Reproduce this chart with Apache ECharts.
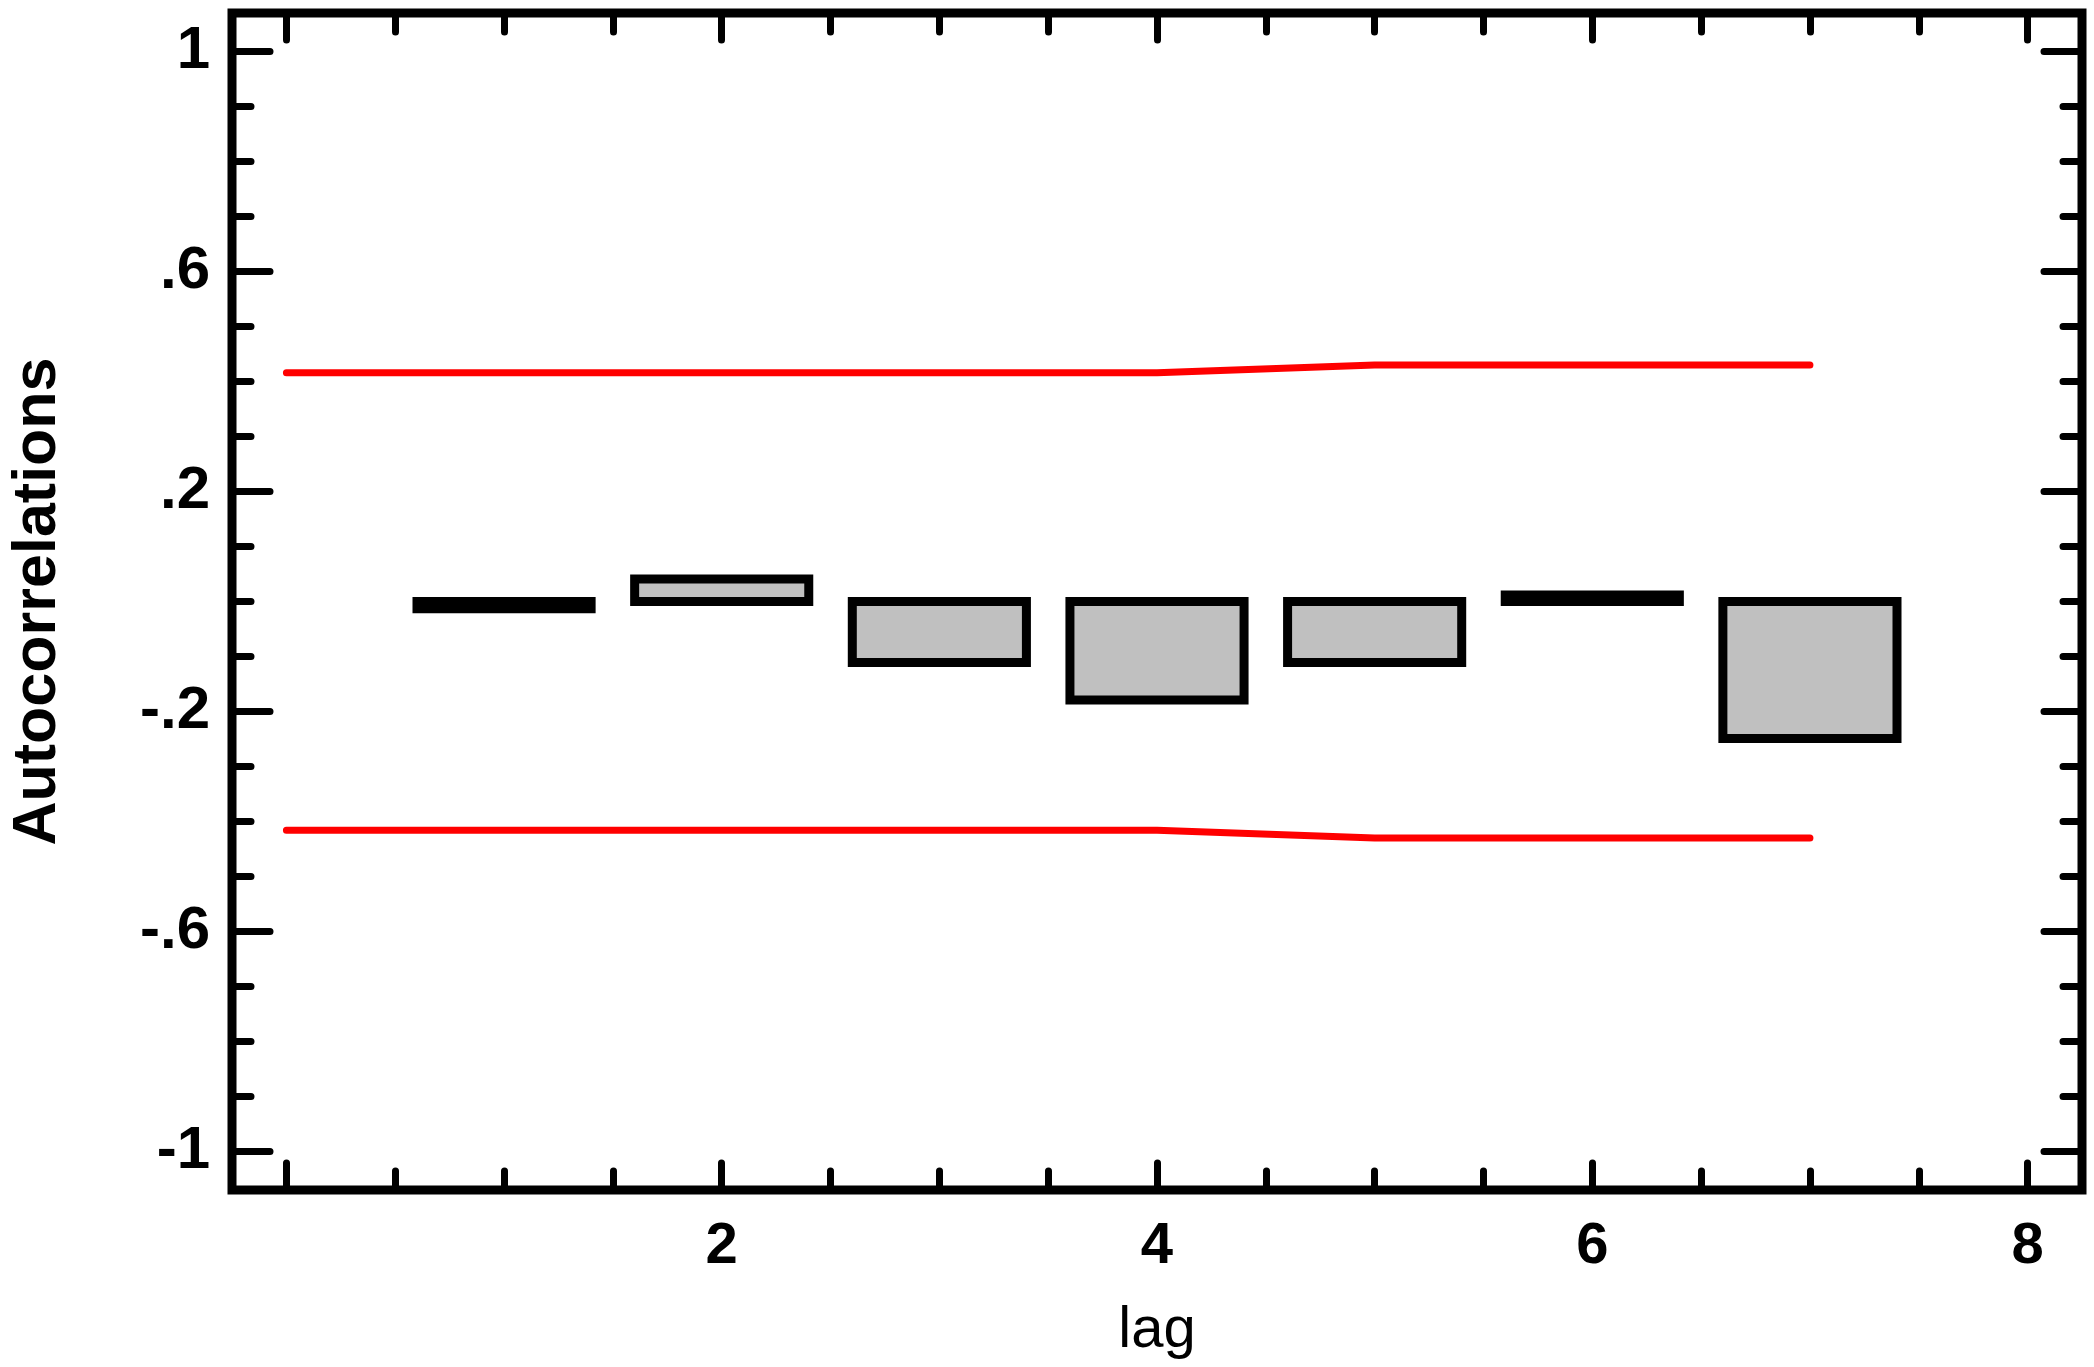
<!DOCTYPE html>
<html>
<head>
<meta charset="utf-8">
<script src="https://cdn.jsdelivr.net/npm/echarts@6/dist/echarts.min.js"></script>
<style>
html, body { margin: 0; padding: 0; background: #fff; }
#chart { width: 2094px; height: 1367px; }
</style>
</head>
<body>
<div id="chart"></div>
<script>
// 自相关图数据
const lags = [1, 2, 3, 4, 5, 6, 7]
const acf = [-0.013, 0.041, -0.111, -0.179, -0.111, 0.012, -0.249]
const bandLags = [0, 1, 2, 3, 4, 5, 6, 7]
const bandUpper = [0.416, 0.416, 0.416, 0.416, 0.416, 0.430, 0.430, 0.430]
const bandLower = [-0.416, -0.416, -0.416, -0.416, -0.416, -0.430, -0.430, -0.430]
// 刻度
const xMajorTicks = [0, 2, 4, 6, 8]
const xMinorTicks = [0.5, 1, 1.5, 2.5, 3, 3.5, 4.5, 5, 5.5, 6.5, 7, 7.5]
const xLabels = [2, 4, 6, 8]
const yMajorTicks = [-1, -0.6, -0.2, 0.2, 0.6, 1]
const yMinorTicks = [-0.9, -0.8, -0.7, -0.5, -0.4, -0.3, -0.1, 0, 0.1, 0.3, 0.4, 0.5, 0.7, 0.8, 0.9]
const yLabels = [-1, -0.6, -0.2, 0.2, 0.6, 1]

const font = 'Liberation Sans, Arial, sans-serif'
const X_MIN = -0.25, X_MAX = 8.25
const Y_MIN = -1.07, Y_MAX = 1.07

function tickStyle(len, values) {
    return {show: true, inside: true, length: len, customValues: values,
        lineStyle: {color: '#000', width: 7, cap: 'round'}}
}
function xAx(pos, len, ticks, labels) {
    return {
        type: 'value', position: pos, min: X_MIN, max: X_MAX,
        axisLine: {show: false, onZero: false}, splitLine: {show: false},
        axisTick: tickStyle(len, ticks),
        axisLabel: labels ? {customValues: labels, color: '#000', fontFamily: font, fontWeight: 'bold', fontSize: 58, margin: 28} : {show: false}
    }
}
function yAx(pos, len, ticks, labels) {
    return {
        type: 'value', position: pos, min: Y_MIN, max: Y_MAX,
        axisLine: {show: false, onZero: false}, splitLine: {show: false},
        axisTick: tickStyle(len, ticks),
        axisLabel: labels ? {
            customValues: labels, color: '#000', fontFamily: font, fontWeight: 'bold', fontSize: 60, margin: 22,
            formatter: function (v) { return String(v).replace('0.', '.') }
        } : {show: false}
    }
}

const xBottom = xAx('bottom', 27, xMajorTicks, xLabels)
xBottom.name = 'lag'
xBottom.nameLocation = 'middle'
xBottom.nameGap = 112
xBottom.nameTextStyle = {color: '#000', fontFamily: font, fontSize: 58}

const yLeft = yAx('left', 38, yMajorTicks, yLabels)
yLeft.name = 'Autocorrelations'
yLeft.nameLocation = 'middle'
yLeft.nameGap = 163
yLeft.nameTextStyle = {color: '#000', fontFamily: font, fontSize: 61, fontWeight: 'bold'}

const chart = echarts.init(document.getElementById('chart'))
const option = {
    animation: false,
    backgroundColor: '#fff',
    grid: {
        left: 232, right: 12, top: 13, bottom: 177,
        show: true, borderColor: '#000', borderWidth: 9,
        outerBoundsMode: 'none'
    },
    xAxis: [
        xBottom,
        xAx('bottom', 19, xMinorTicks),
        xAx('top', 27, xMajorTicks),
        xAx('top', 19, xMinorTicks)
    ],
    yAxis: [
        yLeft,
        yAx('left', 19, yMinorTicks),
        yAx('right', 38, yMajorTicks),
        yAx('right', 19, yMinorTicks)
    ],
    series: [
        {
            name: 'upper', type: 'line', symbol: 'none',
            data: bandLags.map((x, i) => [x, bandUpper[i]]),
            lineStyle: {color: '#ff0000', width: 7, cap: 'round'}
        },
        {
            name: 'lower', type: 'line', symbol: 'none',
            data: bandLags.map((x, i) => [x, bandLower[i]]),
            lineStyle: {color: '#ff0000', width: 7, cap: 'round'}
        },
        {
            name: 'acf', type: 'custom',
            data: lags.map((x, i) => [x, acf[i]]),
            renderItem: function (params, api) {
                const x = api.value(0), v = api.value(1)
                const p0 = api.coord([x - 0.4, 0])
                const p1 = api.coord([x + 0.4, v])
                return {
                    type: 'rect',
                    shape: {x: p0[0], y: Math.min(p0[1], p1[1]), width: p1[0] - p0[0], height: Math.abs(p1[1] - p0[1])},
                    style: {fill: '#c0c0c0', stroke: '#000', lineWidth: 9}
                }
            },
            z: 3
        }
    ]
}
chart.setOption(option)
</script>
</body>
</html>
